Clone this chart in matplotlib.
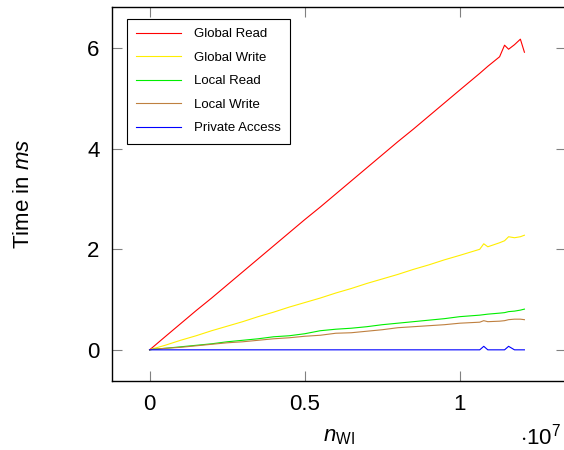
import numpy as np
import matplotlib
matplotlib.use("Agg")
import matplotlib.pyplot as plt
from matplotlib.ticker import FuncFormatter

plt.rcParams['font.family'] = ['Liberation Sans', 'DejaVu Sans']
plt.rcParams['mathtext.fontset'] = 'custom'
plt.rcParams['mathtext.rm'] = 'Liberation Sans'
plt.rcParams['mathtext.it'] = 'Liberation Sans:italic'

# problem size n_WI (in units of 1e6)
n_wi = [0, 0.1, 0.5, 1, 1.5, 2, 2.5, 3, 3.5, 4, 4.5, 5, 5.5, 6, 6.5, 7, 7.5, 8,
        8.5, 9, 9.5, 10, 10.64, 10.77, 10.9, 11.28, 11.44, 11.57, 11.76, 11.95, 12.08]

global_read = [0.0, 0.05, 0.26, 0.52, 0.78, 1.03, 1.29, 1.55, 1.81, 2.07, 2.33, 2.59,
               2.84, 3.10, 3.36, 3.62, 3.88, 4.14, 4.39, 4.65, 4.91, 5.17, 5.50, 5.57,
               5.64, 5.83, 6.06, 5.98, 6.07, 6.18, 5.92]
global_write = [0.0, 0.02, 0.09, 0.19, 0.28, 0.38, 0.47, 0.56, 0.66, 0.75, 0.85, 0.94,
                1.03, 1.13, 1.22, 1.32, 1.41, 1.50, 1.60, 1.69, 1.79, 1.88, 2.00, 2.11,
                2.05, 2.13, 2.17, 2.25, 2.23, 2.25, 2.28]
local_read = [0.0, 0.01, 0.03, 0.06, 0.09, 0.12, 0.16, 0.19, 0.22, 0.26, 0.28, 0.32,
              0.38, 0.41, 0.43, 0.46, 0.50, 0.53, 0.56, 0.59, 0.62, 0.66, 0.69, 0.70,
              0.71, 0.73, 0.74, 0.76, 0.77, 0.79, 0.81]
local_write = [0.0, 0.01, 0.03, 0.05, 0.08, 0.11, 0.14, 0.16, 0.19, 0.22, 0.24, 0.27,
               0.29, 0.33, 0.34, 0.37, 0.40, 0.44, 0.46, 0.48, 0.50, 0.53, 0.55, 0.58,
               0.56, 0.57, 0.58, 0.60, 0.61, 0.61, 0.60]
private_access = [0.0, 0.0, 0.0, 0.0, 0.0, 0.0, 0.0, 0.0, 0.0, 0.0, 0.0, 0.0,
                  0.0, 0.0, 0.0, 0.0, 0.0, 0.0, 0.0, 0.0, 0.0, 0.0, 0.0, 0.07,
                  0.0, 0.0, 0.0, 0.07, 0.0, 0.0, 0.0]

series = [
    ("Global Read", global_read, "#ff0000"),
    ("Global Write", global_write, "#ffee00"),
    ("Local Read", local_read, "#00ee00"),
    ("Local Write", local_write, "#bf8040"),
    ("Private Access", private_access, "#0000ff"),
]

x = np.array(n_wi) * 1e6

fig = plt.figure(figsize=(5.64, 4.5), dpi=100)
# right spine sits just past the image edge, as in the original
ax = fig.add_axes([112 / 564, 69 / 450, 454 / 564, 374 / 450])

for label, vals, col in series:
    ax.plot(x, vals, color=col, lw=0.8, label=label)

ax.set_xlim(-0.121e7, 1.342e7)
ax.set_ylim(-0.62, 6.82)
ax.set_xticks([0, 0.5e7, 1e7])
ax.set_yticks([0, 2, 4, 6])
ax.xaxis.set_major_formatter(FuncFormatter(lambda v, p: f"{v / 1e7:g}"))

ax.tick_params(direction='in', length=7.5, width=0.8, color='#808080',
               top=True, right=True, labelsize=16, pad=9)
for sp in ax.spines.values():
    sp.set_linewidth(1.0)

ax.set_ylabel(r"Time in $\mathit{ms}$", fontsize=16, labelpad=38)
ax.set_xlabel(r"$n_{\mathrm{WI}}$", fontsize=16, labelpad=8)
ax.text(540, 450 - 437, r"$\cdot 10^7$", fontsize=16, ha='center', va='center',
        transform=None)

leg = ax.legend(loc='upper left', bbox_to_anchor=(15 / 454, 362 / 374),
                borderaxespad=0, fontsize=9.5, fancybox=False, framealpha=1,
                edgecolor='black', handlelength=3.4, handletextpad=1.0,
                labelspacing=0.85, borderpad=0.7)
leg.get_frame().set_linewidth(0.8)

fig.savefig("out.png", dpi=100)
